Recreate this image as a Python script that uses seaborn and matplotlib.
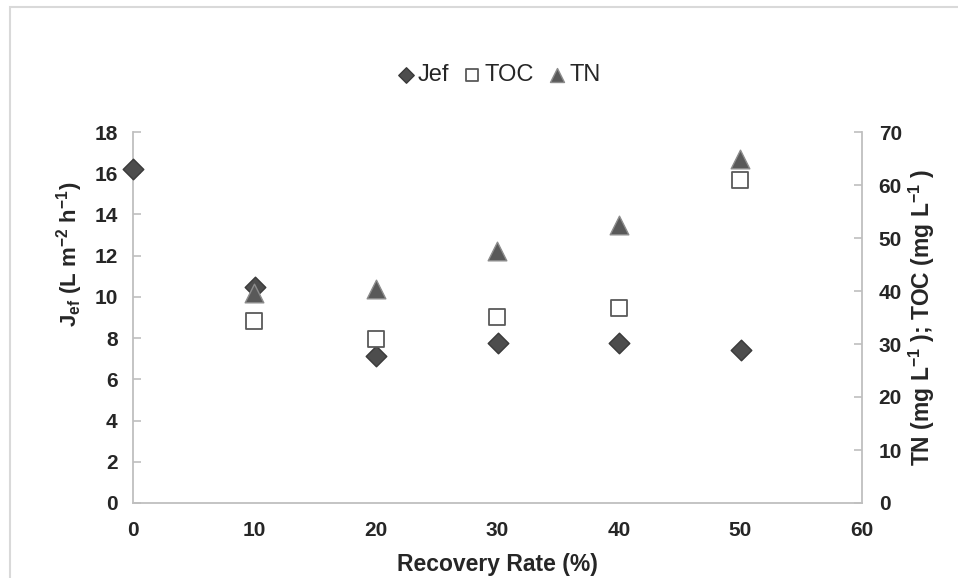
import matplotlib
matplotlib.use("Agg")
import matplotlib.pyplot as plt
import matplotlib.patches as patches
import seaborn as sns
import pandas as pd

# data
recovery = [0, 10, 20, 30, 40, 50]
jef = [16.2, 10.5, 7.12, 7.77, 7.77, 7.44]
rate_conc = [10, 20, 30, 40, 50]
toc = [34.4, 31.0, 35.1, 36.8, 60.9]
tn = [39.7, 40.3, 47.5, 52.5, 64.9]

sns.set_style("white")
plt.rcParams["font.family"] = ["Liberation Sans", "DejaVu Sans"]
plt.rcParams["mathtext.fontset"] = "custom"
plt.rcParams["mathtext.rm"] = "Liberation Sans"
plt.rcParams["mathtext.bf"] = "Liberation Sans:bold"
plt.rcParams["mathtext.default"] = "bf"

df_j = pd.DataFrame({"x": recovery, "y": jef})
df_c = pd.DataFrame({"x": rate_conc, "toc": toc, "tn": tn})

fig = plt.figure(figsize=(9.58, 5.78), dpi=100)
ax = fig.add_axes([133 / 958, 1 - 503 / 578, (862 - 133) / 958, (503 - 132) / 578])
ax2 = ax.twinx()

sns.scatterplot(data=df_j, x="x", y="y", ax=ax, marker="D", s=110,
                color="#4d4d4d", edgecolor="#3a3a3a", linewidth=1, label="Jef",
                legend=False, zorder=3, clip_on=False)
sns.scatterplot(data=df_c, x="x", y="toc", ax=ax2, marker="s", s=135,
                facecolor="white", edgecolor="#595959", linewidth=1.3, label="TOC",
                legend=False, zorder=3, clip_on=False)
sns.scatterplot(data=df_c, x="x", y="tn", ax=ax2, marker="^", s=180,
                color="#595959", edgecolor="#8c8c8c", linewidth=1, label="TN",
                legend=False, zorder=3, clip_on=False)

ax.set_xlim(0, 60)
ax.set_ylim(0, 18)
ax2.set_ylim(0, 70)
ax.set_xticks(range(0, 61, 10))
ax.set_yticks(range(0, 19, 2))
ax2.set_yticks(range(0, 71, 10))

spine_c = "#bfbfbf"
for a in (ax, ax2):
    for s in a.spines.values():
        s.set_color(spine_c)
        s.set_linewidth(1.3)
    a.spines["top"].set_visible(False)
ax.spines["right"].set_visible(False)
ax2.spines["left"].set_visible(False)
ax2.spines["bottom"].set_visible(False)

ax.tick_params(axis="y", direction="in", length=6, color=spine_c, width=1.2,
               pad=11, labelsize=15)
ax.tick_params(axis="x", length=0, pad=13, labelsize=15)
ax2.tick_params(axis="y", direction="in", length=6, color=spine_c, width=1.2,
                pad=12, labelsize=15)
for lab in ax.get_xticklabels() + ax.get_yticklabels() + ax2.get_yticklabels():
    lab.set_fontweight("bold")

ax.set_xlabel("Recovery Rate (%)", fontsize=16.5, fontweight="bold", va="center")
ax.xaxis.set_label_coords(0.5, -(565 - 503) / 371)
ax.set_ylabel(r"J$_{ef}$ (L m$^{-2}$ h$^{-1}$)", fontsize=16, fontweight="bold",
              va="center")
ax.yaxis.set_label_coords(-(133 - 70) / 729, 0.67)
ax2.set_ylabel(r"TN (mg L$^{-1}$ ); TOC (mg L$^{-1}$ )", fontsize=16.5, fontweight="bold",
               va="center")
ax2.yaxis.set_label_coords(1 + (922 - 862) / 729, 0.5)

handles = ax.get_legend_handles_labels()[0] + ax2.get_legend_handles_labels()[0]
labels = ["Jef", "TOC", "TN"]
fig.legend(handles, labels, loc="center", bbox_to_anchor=(497 / 958, 1 - 75 / 578),
           ncol=3, frameon=False, fontsize=17, markerscale=0.75,
           handletextpad=0.0, columnspacing=0.5, handlelength=1.0)

# outer chart frame
fig.patches.append(patches.Rectangle((10 / 958, -0.2), 1.2, 1.2 - 7 / 578,
                                     transform=fig.transFigure, fill=False,
                                     edgecolor="#d9d9d9", linewidth=1.5))

fig.savefig("out.png", dpi=100)
